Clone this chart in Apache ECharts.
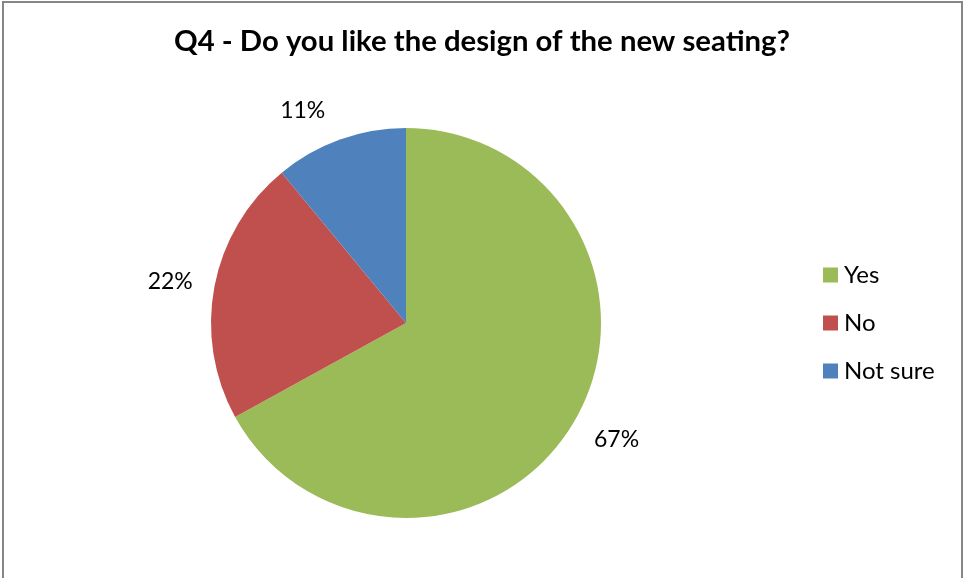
<!DOCTYPE html>
<html>
<head>
<meta charset="utf-8">
<script src="https://cdn.jsdelivr.net/npm/echarts@6/dist/echarts.min.js"></script>
<style>
html,body{margin:0;padding:0;background:#fff;}
#frame{position:absolute;left:2px;top:1px;width:961px;height:620px;border:2px solid #868686;box-sizing:border-box;}
#chart{position:absolute;left:0;top:0;width:964px;height:578px;}
</style>
</head>
<body>
<div id="frame"></div>
<div id="chart"></div>
<script>
const titleText = 'Q4 - Do you like the design of the new seating?';
const categories = ['Yes', 'No', 'Not sure'];
const values = [67, 22, 11];
const colors = ['#9BBB59', '#C0504D', '#4F81BD'];

// Label nudges (Excel "outside end" placement), styling only
const labelNudge = { 'Yes': [4, -6], 'No': [0, 4], 'Not sure': [-22, 13] };

const FONT = 'Lato, "Open Sans", sans-serif';
const pieData = categories.map((c, i) => ({ name: c, value: values[i], itemStyle: { color: colors[i] } }));
const labelData = categories.map((c, i) => ({ name: c, value: values[i], label: { offset: labelNudge[c] } }));

const chart = echarts.init(document.getElementById('chart'), null, { renderer: 'canvas' });
chart.setOption({
  animation: false,
  backgroundColor: 'transparent',
  title: {
    text: titleText,
    left: 'center',
    top: 22,
    textStyle: { fontFamily: FONT, fontWeight: 'bold', fontSize: 29.3, color: '#000' }
  },
  legend: {
    orient: 'vertical',
    left: 823,
    top: 263,
    padding: 0,
    icon: 'rect',
    itemWidth: 15,
    itemHeight: 15,
    itemGap: 24,
    data: categories,
    textStyle: { fontFamily: FONT, fontSize: 24, color: '#000', padding: [0, 0, 0, 1] }
  },
  series: [
    {
      type: 'pie',
      center: [406, 323],
      radius: [0, 195],
      startAngle: 90,
      clockwise: true,
      silent: true,
      label: { show: false },
      labelLine: { show: false },
      data: pieData
    },
    {
      type: 'pie',
      center: [406, 323],
      radius: [195, 279],
      startAngle: 90,
      clockwise: true,
      silent: true,
      itemStyle: { color: 'rgba(0,0,0,0)' },
      label: {
        show: true,
        position: 'inside',
        formatter: p => Math.round(p.percent) + '%',
        fontFamily: FONT,
        fontSize: 23,
        color: '#000'
      },
      labelLine: { show: false },
      data: labelData
    }
  ]
});
</script>
</body>
</html>
